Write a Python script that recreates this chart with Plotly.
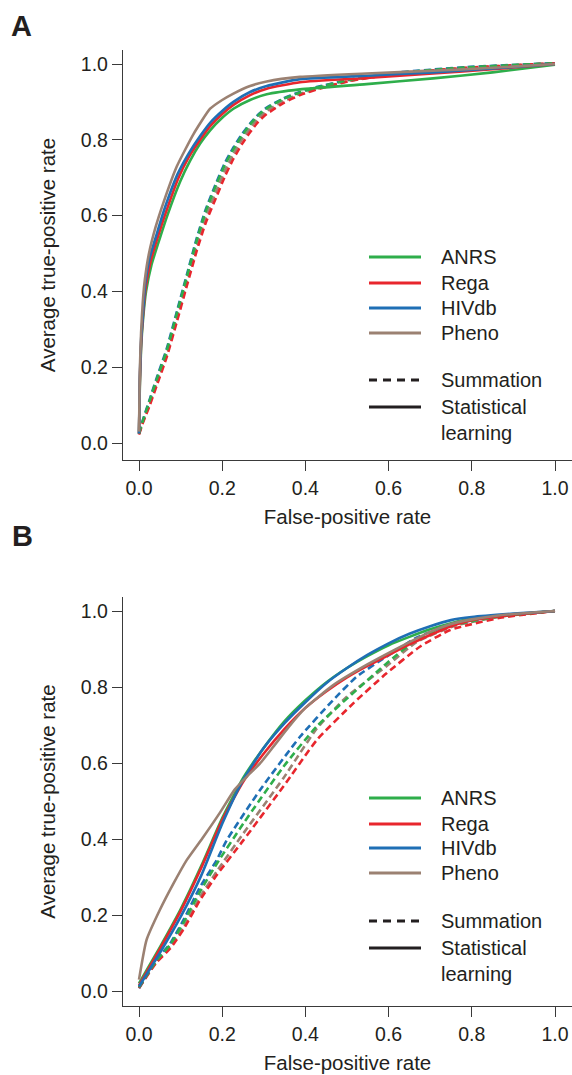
import plotly.graph_objects as go

# ---------------- data ----------------
methods = ["ANRS", "Rega", "HIVdb", "Pheno"]
colors = {"ANRS": "#2eae4b", "Rega": "#e8262d", "HIVdb": "#1f6fb5", "Pheno": "#9b8172"}

# Panel A - statistical learning (solid)
a_sl_x = {
    "ANRS":  [0.0, 0.002, 0.005, 0.010, 0.017, 0.030, 0.050, 0.068, 0.099, 0.123, 0.147, 0.171, 0.200, 0.227, 0.267, 0.307, 0.387, 0.547, 0.707, 0.850, 1.0],
    "Rega":  [0.0, 0.002, 0.005, 0.010, 0.016, 0.028, 0.047, 0.065, 0.095, 0.120, 0.147, 0.171, 0.200, 0.227, 0.267, 0.307, 0.387, 0.547, 0.707, 0.850, 1.0],
    "HIVdb": [0.0, 0.002, 0.005, 0.010, 0.015, 0.026, 0.045, 0.062, 0.093, 0.120, 0.147, 0.171, 0.200, 0.227, 0.267, 0.307, 0.387, 0.547, 0.707, 0.850, 1.0],
    "Pheno": [0.0, 0.002, 0.005, 0.009, 0.014, 0.024, 0.040, 0.059, 0.091, 0.131, 0.171, 0.200, 0.227, 0.267, 0.307, 0.387, 0.547, 0.707, 0.850, 1.0],
}
a_sl_y = {
    "ANRS":  [0.025, 0.15, 0.25, 0.33, 0.40, 0.47, 0.54, 0.60, 0.69, 0.745, 0.79, 0.825, 0.858, 0.882, 0.905, 0.920, 0.933, 0.947, 0.962, 0.978, 0.998],
    "Rega":  [0.025, 0.16, 0.26, 0.34, 0.41, 0.48, 0.55, 0.61, 0.70, 0.755, 0.80, 0.836, 0.868, 0.892, 0.918, 0.935, 0.952, 0.963, 0.975, 0.986, 1.0],
    "HIVdb": [0.025, 0.17, 0.27, 0.35, 0.42, 0.49, 0.56, 0.62, 0.71, 0.765, 0.81, 0.845, 0.876, 0.900, 0.926, 0.942, 0.960, 0.969, 0.978, 0.988, 1.0],
    "Pheno": [0.030, 0.19, 0.29, 0.37, 0.43, 0.50, 0.57, 0.635, 0.73, 0.815, 0.882, 0.905, 0.922, 0.942, 0.954, 0.966, 0.975, 0.982, 0.990, 1.0],
}
# Panel A - summation (dashed)
a_su_x = [0.0, 0.010, 0.026, 0.042, 0.067, 0.091, 0.115, 0.139, 0.160, 0.187, 0.207, 0.227, 0.247, 0.267,
          0.287, 0.307, 0.347, 0.387, 0.427, 0.507, 0.627, 0.788, 1.0]
a_su_y = {
    "ANRS":  [0.025, 0.061, 0.113, 0.166, 0.245, 0.342, 0.439, 0.536, 0.610, 0.685, 0.735, 0.775, 0.810, 0.840,
              0.865, 0.883, 0.908, 0.925, 0.938, 0.958, 0.977, 0.991, 1.002],
    "Rega":  [0.022, 0.055, 0.100, 0.150, 0.228, 0.320, 0.415, 0.508, 0.580, 0.652, 0.705, 0.750, 0.788, 0.820,
              0.848, 0.868, 0.897, 0.918, 0.933, 0.955, 0.976, 0.990, 1.002],
    "HIVdb": [0.025, 0.063, 0.116, 0.170, 0.250, 0.347, 0.444, 0.541, 0.615, 0.690, 0.740, 0.780, 0.814, 0.843,
              0.867, 0.885, 0.909, 0.926, 0.939, 0.959, 0.978, 0.992, 1.002],
    "Pheno": [0.024, 0.058, 0.106, 0.157, 0.236, 0.330, 0.426, 0.520, 0.595, 0.668, 0.720, 0.762, 0.800, 0.830,
              0.857, 0.876, 0.902, 0.921, 0.935, 0.956, 0.976, 0.990, 1.002],
}

# Panel B - statistical learning (solid)
b_sl_x = {
    "ANRS":  [0.0, 0.05, 0.10, 0.15, 0.20, 0.25, 0.30, 0.35, 0.40, 0.45, 0.50, 0.55, 0.60, 0.65, 0.70, 0.75, 0.80, 0.90, 1.0],
    "Rega":  [0.0, 0.05, 0.10, 0.15, 0.20, 0.25, 0.30, 0.35, 0.40, 0.45, 0.50, 0.55, 0.60, 0.65, 0.70, 0.75, 0.80, 0.90, 1.0],
    "HIVdb": [0.0, 0.05, 0.10, 0.15, 0.20, 0.25, 0.30, 0.35, 0.40, 0.45, 0.50, 0.55, 0.60, 0.65, 0.70, 0.75, 0.80, 0.90, 1.0],
    "Pheno": [0.0, 0.018, 0.050, 0.083, 0.115, 0.155, 0.195, 0.230, 0.260, 0.291, 0.323, 0.360, 0.400, 0.467, 0.550, 0.627, 0.700, 0.748, 0.800, 0.868, 1.0],
}
b_sl_y = {
    "ANRS":  [0.020, 0.115, 0.215, 0.330, 0.455, 0.560, 0.640, 0.710, 0.765, 0.812, 0.850, 0.882, 0.910, 0.932, 0.952, 0.968, 0.980, 0.991, 1.0],
    "Rega":  [0.015, 0.110, 0.210, 0.325, 0.450, 0.550, 0.625, 0.690, 0.745, 0.788, 0.825, 0.856, 0.884, 0.912, 0.937, 0.960, 0.976, 0.990, 1.0],
    "HIVdb": [0.012, 0.100, 0.195, 0.305, 0.440, 0.555, 0.640, 0.705, 0.760, 0.810, 0.850, 0.885, 0.915, 0.940, 0.960, 0.976, 0.984, 0.993, 1.0],
    "Pheno": [0.030, 0.134, 0.213, 0.283, 0.345, 0.406, 0.470, 0.530, 0.565, 0.599, 0.643, 0.695, 0.745, 0.805, 0.860, 0.905, 0.945, 0.965, 0.978, 0.989, 1.0],
}
# Panel B - summation (dashed)
b_su_x = {
    "ANRS":  [0.0, 0.042, 0.075, 0.107, 0.147, 0.187, 0.251, 0.347, 0.427, 0.531, 0.595, 0.667, 0.756, 0.868, 1.0],
    "Rega":  [0.0, 0.042, 0.075, 0.107, 0.147, 0.187, 0.251, 0.347, 0.427, 0.515, 0.595, 0.675, 0.748, 0.868, 1.0],
    "HIVdb": [0.0, 0.042, 0.075, 0.107, 0.147, 0.187, 0.211, 0.291, 0.387, 0.467, 0.523, 0.595, 0.667, 0.756, 0.868, 1.0],
    "Pheno": [0.0, 0.042, 0.075, 0.107, 0.147, 0.187, 0.251, 0.347, 0.427, 0.499, 0.595, 0.667, 0.756, 0.868, 1.0],
}
b_su_y = {
    "ANRS":  [0.010, 0.080, 0.122, 0.180, 0.262, 0.335, 0.441, 0.590, 0.696, 0.800, 0.862, 0.924, 0.963, 0.986, 1.0],
    "Rega":  [0.008, 0.075, 0.112, 0.162, 0.240, 0.305, 0.397, 0.538, 0.660, 0.757, 0.836, 0.906, 0.950, 0.982, 1.0],
    "HIVdb": [0.007, 0.082, 0.125, 0.187, 0.274, 0.345, 0.397, 0.529, 0.669, 0.766, 0.827, 0.880, 0.930, 0.966, 0.987, 1.0],
    "Pheno": [0.009, 0.077, 0.116, 0.168, 0.248, 0.315, 0.415, 0.560, 0.690, 0.774, 0.855, 0.918, 0.960, 0.985, 1.0],
}

tick_vals = [0.0, 0.2, 0.4, 0.6, 0.8, 1.0]
tick_text = ["0.0", "0.2", "0.4", "0.6", "0.8", "1.0"]
legend_labels = methods
legend_styles = ["Summation", "Statistical<br>learning"]
panel_labels = ["A", "B"]
x_title = "False-positive rate"
y_title = "Average true-positive rate"

# ---------------- figure ----------------
W, H = 572, 1075
ML, MR, MT, MB = 123, 0, 50, 69
PW, PH = W - ML - MR, H - MT - MB
FONT = "Liberation Sans, Arial, Helvetica, sans-serif"
INK = "#231f20"
TICK_FS, TITLE_FS, LEG_FS = 19.5, 20.5, 20


def px2paper(px, py):
    return (px - ML) / PW, (H - MB - py) / PH


fig = go.Figure()
LW = 2.6
DASH = "7px,4px"

panels = [
    ("x", "y", a_sl_x, a_sl_y, {m: a_su_x for m in methods}, a_su_y),
    ("x2", "y2", b_sl_x, b_sl_y, b_su_x, b_su_y),
]
for xa, ya, slx, sly, sux, suy in panels:
    for m in ["Pheno", "HIVdb", "Rega", "ANRS"]:
        fig.add_trace(go.Scatter(x=sux[m], y=suy[m], mode="lines", xaxis=xa, yaxis=ya,
                                 line=dict(color=colors[m], width=LW, dash=DASH, shape="spline", smoothing=0.5),
                                 name=m + " summation", showlegend=False))
    for m in ["ANRS", "Rega", "HIVdb", "Pheno"]:
        fig.add_trace(go.Scatter(x=slx[m], y=sly[m], mode="lines", xaxis=xa, yaxis=ya,
                                 line=dict(color=colors[m], width=LW, shape="spline", smoothing=0.5),
                                 name=m + " statistical learning", showlegend=False))

top_dom = (H - MB - 460) / PH
bot_dom = (H - MB - 597) / PH

axis_common = dict(showline=True, linecolor="#3a3a3a", linewidth=1.3, ticks="outside", ticklen=10,
                   tickwidth=1.3, tickcolor="#3a3a3a", showgrid=False, zeroline=False,
                   tickvals=tick_vals, ticktext=tick_text, tickfont=dict(family=FONT, size=TICK_FS, color=INK))
title_font = dict(family=FONT, size=TITLE_FS, color=INK)

xr = [-16 / 416, 433 / 416]
fig.update_layout(
    width=W, height=H, margin=dict(l=ML, r=MR, t=MT, b=MB),
    paper_bgcolor="white", plot_bgcolor="white", showlegend=False,
    font=dict(family=FONT, color=INK),
    xaxis=dict(domain=[0, 1], range=xr, anchor="y",
               title=dict(text=x_title, font=title_font, standoff=12), **axis_common),
    yaxis=dict(domain=[top_dom, 1], range=[-17 / 379, 1 + 14 / 379], anchor="x",
               title=dict(text=y_title, font=title_font, standoff=19), **axis_common),
    xaxis2=dict(domain=[0, 1], range=xr, anchor="y2",
                title=dict(text=x_title, font=title_font, standoff=12), **axis_common),
    yaxis2=dict(domain=[0, bot_dom], range=[-15 / 380, 1 + 14 / 380], anchor="x2",
                title=dict(text=y_title, font=title_font, standoff=19), **axis_common),
)

# ---------------- legends (drawn as keys + text) ----------------
shapes, annos = [], []
legend_rows = {
    "A": [257, 283, 308, 333, 380, 407],
    "B": [798, 824, 848, 873, 921, 948],
}
for panel, rows in legend_rows.items():
    for i, m in enumerate(legend_labels):
        x0, y0 = px2paper(369, rows[i])
        x1, _ = px2paper(421, rows[i])
        shapes.append(dict(type="line", xref="paper", yref="paper", x0=x0, x1=x1, y0=y0, y1=y0,
                           line=dict(color=colors[m], width=3)))
        tx, _ = px2paper(439, rows[i])
        annos.append(dict(xref="paper", yref="paper", x=tx, y=y0, text=m, showarrow=False,
                          xanchor="left", yanchor="middle", font=dict(family=FONT, size=LEG_FS, color=INK)))
    for j, (lab, dash) in enumerate(zip(legend_styles, ["8px,6px", "solid"])):
        r = rows[4 + j]
        x0, y0 = px2paper(369, r)
        x1, _ = px2paper(421, r)
        shapes.append(dict(type="line", xref="paper", yref="paper", x0=x0, x1=x1, y0=y0, y1=y0,
                           line=dict(color=INK, width=3, dash=dash)))
        tx, _ = px2paper(439, r)
        if "<br>" in lab:
            _, yc = px2paper(439, r + 12.5)
            annos.append(dict(xref="paper", yref="paper", x=tx, y=yc, text=lab, showarrow=False,
                              xanchor="left", yanchor="middle", align="left",
                              font=dict(family=FONT, size=LEG_FS, color=INK)))
        else:
            annos.append(dict(xref="paper", yref="paper", x=tx, y=y0, text=lab, showarrow=False,
                              xanchor="left", yanchor="middle", font=dict(family=FONT, size=LEG_FS, color=INK)))

for lab, (lx, ly) in zip(panel_labels, [(9, 26), (10, 536)]):
    x, y = px2paper(lx, ly)
    annos.append(dict(xref="paper", yref="paper", x=x, y=y, text="<b>%s</b>" % lab, showarrow=False,
                      xanchor="left", yanchor="middle", font=dict(family=FONT, size=29, color=INK)))

fig.update_layout(shapes=shapes, annotations=annos)
fig.write_html("out.html")
